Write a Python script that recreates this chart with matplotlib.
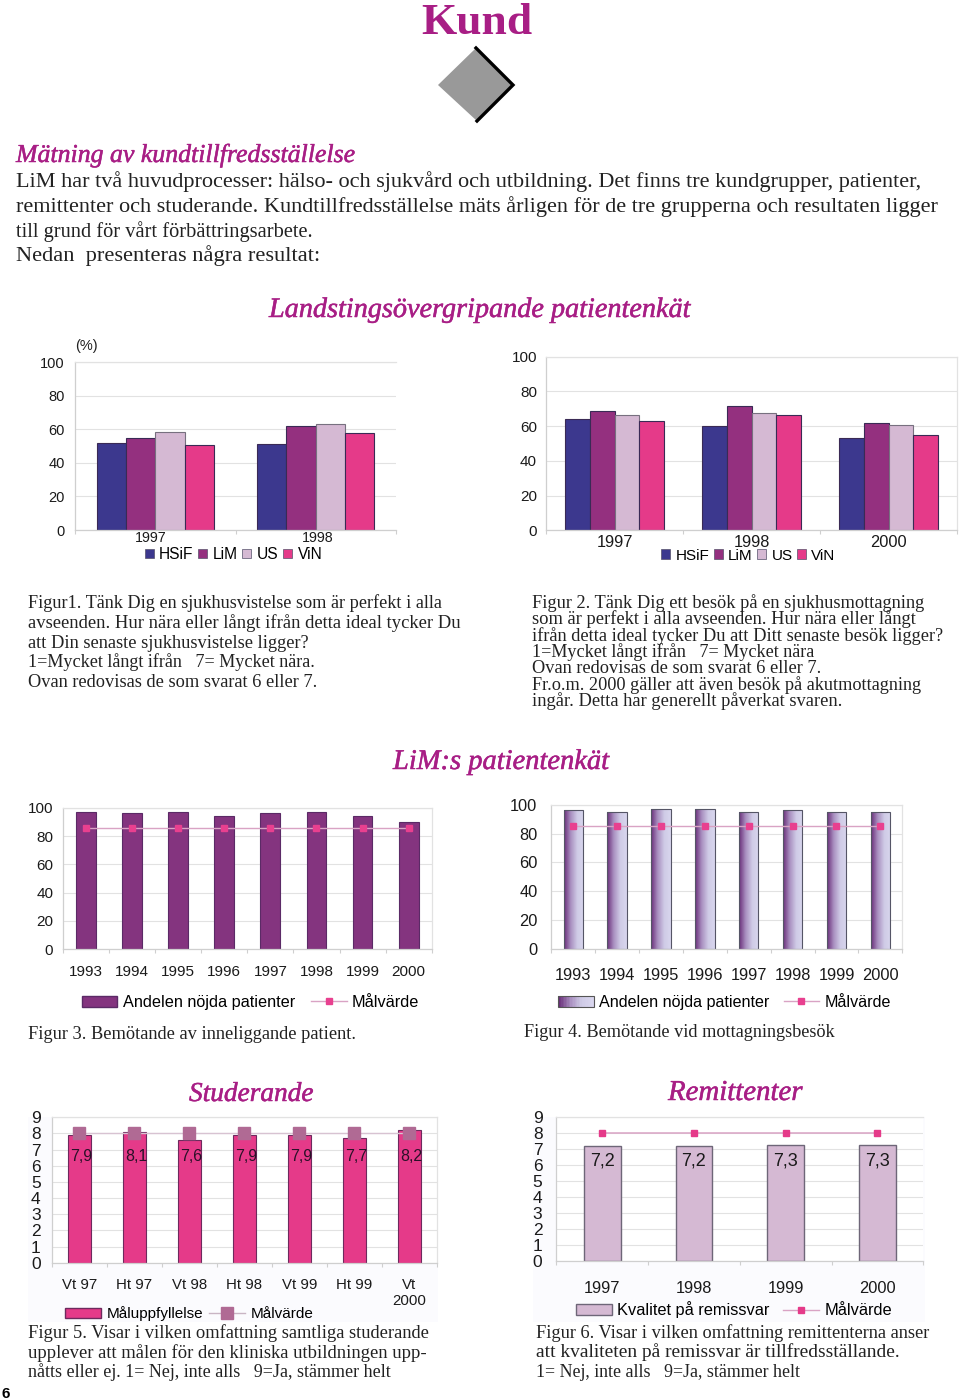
import numpy as np
import matplotlib
matplotlib.use("Agg")
import matplotlib.pyplot as plt
import matplotlib.patheffects as pe
from matplotlib.patches import Polygon, Rectangle, Patch
from matplotlib.lines import Line2D
from matplotlib.colors import LinearSegmentedColormap, to_hex
from matplotlib.legend_handler import HandlerBase
from matplotlib.transforms import ScaledTranslation

# ---- data ----
years_1 = ["1997", "1998"]
hsif_1 = [52, 51]
lim_1 = [55, 62]
us_1 = [58.5, 63]
vin_1 = [50.5, 57.5]

years_2 = ["1997", "1998", "2000"]
hsif_2 = [64, 60, 53]
lim_2 = [69, 71.6, 61.6]
us_2 = [66.6, 67.4, 60.6]
vin_2 = [63, 66.4, 54.7]

years_3 = ["1993", "1994", "1995", "1996", "1997", "1998", "1999", "2000"]
nojda_3 = [97, 96, 97, 94, 96, 97, 94, 90]
mal_3 = [86, 86, 86, 86, 86, 86, 86, 86]
nojda_4 = [96, 95, 97, 97, 95, 96, 95, 95]
mal_4 = [85.5, 85.5, 85.5, 85.5, 85.5, 85.5, 85.5, 85.5]

terms_5 = ["Vt 97", "Ht 97", "Vt 98", "Ht 98", "Vt 99", "Ht 99", "Vt\n2000"]
uppf_5 = [7.9, 8.1, 7.6, 7.9, 7.9, 7.7, 8.2]
mal_5 = [8, 8, 8, 8, 8, 8, 8]
years_6 = ["1997", "1998", "1999", "2000"]
kval_6 = [7.2, 7.2, 7.3, 7.3]
mal_6 = [8, 8, 8, 8]

# ---- styles ----
SANS = "Liberation Sans"
SERIF = "Liberation Serif"
NAVY, PURPLE, LILAC, PINK = "#3C388E", "#94307F", "#D5B9D3", "#E53A89"
PLUM = "#84347F"
HEAD = "#A81E85"
GRID = "#E2E2E2"
AXC = "#CFCFCF"
W, H = 960, 1400

plt.rcParams["font.family"] = SANS
fig = plt.figure(figsize=(9.6, 14), dpi=100, facecolor="white")
rend = fig.canvas.get_renderer()


def T(x, base, s, x1=None, size=15, color="#222222", family=SERIF, stroke=0, **kw):
    t = fig.text(x / W, 1 - base / H, s, fontsize=size, color=color,
                 family=family, va="baseline", ha="left", **kw)
    if x1 is not None:
        best, err = size, 1e9
        for fs in np.arange(size * 0.8, size * 1.3, 0.04):
            t.set_fontsize(fs)
            e = abs(t.get_window_extent(rend).width - (x1 - x))
            if e < err:
                best, err = fs, e
        t.set_fontsize(best)
    if stroke:
        t.set_path_effects([pe.withStroke(linewidth=stroke, foreground=color)])
    return t


def make_ax(x0, x1, ytop, y0, ymax, n, yticks, labels, pad, xsize, ysize,
            ypad=8, top=True, right=False):
    ax = fig.add_axes([x0 / W, 1 - y0 / H, (x1 - x0) / W, (y0 - ytop) / H], facecolor="white")
    ax.set_xlim(-0.5, n - 0.5)
    ax.set_ylim(0, ymax)
    ax.set_yticks(yticks)
    ax.tick_params(axis="y", length=0, labelsize=ysize, pad=ypad, labelcolor="#1a1a1a")
    ax.set_xticks(range(n))
    ax.set_xticklabels(labels)
    ax.tick_params(axis="x", length=0, labelsize=xsize, pad=pad, labelcolor="#1a1a1a")
    ax.set_xticks(np.arange(n + 1) - 0.5, minor=True)
    ax.tick_params(axis="x", which="minor", length=3, width=0.8, color=AXC, direction="out")
    ax.grid(axis="y", color=GRID, lw=0.8)
    ax.set_axisbelow(True)
    for k, sp in ax.spines.items():
        sp.set_color(AXC)
        sp.set_linewidth(0.9)
    ax.spines["top"].set_visible(top)
    ax.spines["top"].set_color(GRID)
    ax.spines["right"].set_visible(right)
    ax.spines["right"].set_color(GRID)
    return ax


def legend(ax, handles, labels, cx, cy, fs, hl, hh, tp, cs, **kw):
    return ax.legend(handles, labels, loc="center", bbox_to_anchor=(cx / W, 1 - cy / H),
                     bbox_transform=fig.transFigure, ncol=len(labels), frameon=False,
                     fontsize=fs, handlelength=hl, handleheight=hh, handletextpad=tp,
                     columnspacing=cs, borderpad=0, borderaxespad=0, **kw)


def grouped(ax, series, colors, w):
    for j, (vals, c) in enumerate(zip(series, colors)):
        x = np.arange(len(vals)) + (j - 1.5) * w
        ec = "#77707F" if c == LILAC else "#3a2a55"
        ax.bar(x, vals, w, color=c, edgecolor=ec, linewidth=0.8, zorder=2)


NAMES = ["HSiF", "LiM", "US", "ViN"]
COLS = [NAVY, PURPLE, LILAC, PINK]
sq = [Patch(facecolor=c, edgecolor="#55506a", lw=0.5) for c in COLS]

# ---- page decoration ----
fig.patches.append(Rectangle((533 / W, 1 - 1322 / H), 392 / W, 205 / H, transform=fig.transFigure,
                             facecolor="#FBFBFE", edgecolor="none", zorder=-5))
fig.patches.append(Rectangle((28 / W, 1 - 1322 / H), 410 / W, 205 / H, transform=fig.transFigure,
                             facecolor="#FBFBFE", edgecolor="none", zorder=-5))
T(421, 34, "Kund", x1=532, size=32, color=HEAD, weight="bold")


def P(pts):
    return [(x / W, 1 - y / H) for x, y in pts]


fig.patches.append(Polygon(P([(476, 48), (514, 85), (477, 121), (438, 85)]), closed=True,
                           transform=fig.transFigure, facecolor="#999999", edgecolor="none"))
fig.add_artist(Line2D(*zip(*P([(476, 48), (513, 85), (477, 121)])), transform=fig.transFigure,
                      color="black", lw=2.4, solid_joinstyle="miter"))

# ---- text ----
T(16, 162, "Mätning av kundtillfredsställelse", x1=357, size=18, color=HEAD, style="italic", stroke=0.35)
for base, s, x1 in [
    (187, "LiM har två huvudprocesser: hälso- och sjukvård och utbildning. Det finns tre kundgrupper, patienter,", 921),
    (212, "remittenter och studerande. Kundtillfredsställelse mäts årligen för de tre grupperna och resultaten ligger", 941),
    (237, "till grund för vårt förbättringsarbete.", 312),
    (261, "Nedan  presenteras några resultat:", 319),
]:
    T(16, base, s, x1=x1)
T(269, 317, "Landstingsövergripande patientenkät", x1=691, size=20, color=HEAD, style="italic", stroke=0.35)
T(393, 769, "LiM:s patientenkät", x1=609, size=20, color=HEAD, style="italic", stroke=0.35)
T(189, 1101, "Studerande", x1=314, size=20, color=HEAD, style="italic", stroke=0.35)
T(668, 1100, "Remittenter", x1=803, size=20, color=HEAD, style="italic", stroke=0.35)

for base, s, x1 in [
    (608, "Figur1. Tänk Dig en sjukhusvistelse som är perfekt i alla", 443),
    (628, "avseenden. Hur nära eller långt ifrån detta ideal tycker Du", 460),
    (648, "att Din senaste sjukhusvistelse ligger?", 308),
    (667, "1=Mycket långt ifrån   7= Mycket nära.", 315),
    (687, "Ovan redovisas de som svarat 6 eller 7.", 316),
]:
    T(28, base, s, x1=x1)
for base, s, x1 in [
    (608, "Figur 2. Tänk Dig ett besök på en sjukhusmottagning", 923),
    (624, "som är perfekt i alla avseenden. Hur nära eller långt", 916),
    (641, "ifrån detta ideal tycker Du att Ditt senaste besök ligger?", 942),
    (657, "1=Mycket långt ifrån   7= Mycket nära", 814),
    (673, "Ovan redovisas de som svarat 6 eller 7.", 820),
    (690, "Fr.o.m. 2000 gäller att även besök på akutmottagning", 921),
    (706, "ingår. Detta har generellt påverkat svaren.", 842),
]:
    T(532, base, s, x1=x1)
T(28, 1039, "Figur 3. Bemötande av inneliggande patient.", x1=355)
T(524, 1037, "Figur 4. Bemötande vid mottagningsbesök", x1=836)
for base, s, x1 in [
    (1338, "Figur 5. Visar i vilken omfattning samtliga studerande", 428),
    (1358, "upplever att målen för den kliniska utbildningen upp-", 428),
    (1377, "nåtts eller ej. 1= Nej, inte alls   9=Ja, stämmer helt", 390),
]:
    T(28, base, s, x1=x1)
for base, s, x1 in [
    (1338, "Figur 6. Visar i vilken omfattning remittenterna anser", 929),
    (1357, "att kvaliteten på remissvar är tillfredsställande.", 900),
    (1377, "1= Nej, inte alls   9=Ja, stämmer helt", 800),
]:
    T(536, base, s, x1=x1)
T(2, 1398, "6", size=11, weight="bold", family=SANS, color="black")

# ---- chart 1 ----
ax1 = make_ax(75, 396, 362, 530, 100, 2, range(0, 101, 20), years_1, 1, 10.3, 10.5, ypad=7.5)
grouped(ax1, [hsif_1, lim_1, us_1, vin_1], COLS, 0.183)
for lbl, dx in zip(ax1.get_xticklabels(), [-4, 2]):
    lbl.set_transform(lbl.get_transform() + ScaledTranslation(dx / 100, 0, fig.dpi_scale_trans))
T(75, 350, "(%)", size=10.5, family=SANS)
legend(ax1, sq, NAMES, 233.5, 554.5, 11.2, 0.58, 0.58, 0.35, 0.3)

# ---- chart 2 ----
ax2 = make_ax(546, 957, 356.7, 530.3, 100, 3, range(0, 101, 20), years_2, 3.5, 11.8, 11, ypad=6.5, right=True)
grouped(ax2, [hsif_2, lim_2, us_2, vin_2], COLS, 0.182)
legend(ax2, sq, NAMES, 748.5, 555.5, 11, 0.58, 0.58, 0.35, 0.3)

# ---- chart 3 ----
TLINE = "#D9A3C4"
line3 = dict(color=TLINE, lw=1, marker="s", ms=5, mfc="#E8408F", mec="#E8408F")
ax3 = make_ax(63, 431.7, 807.7, 949.3, 100, 8, range(0, 101, 20), years_3, 11.5, 11, 11, ypad=7, right=True)
ax3.bar(range(8), nojda_3, 0.43, color=PLUM, edgecolor="#5b2a66", lw=0.8, zorder=2)
ax3.plot(range(8), mal_3, zorder=3, **line3)
legend(ax3, [Patch(facecolor=PLUM, edgecolor="#5b2a66"), Line2D([], [], **line3)],
       ["Andelen nöjda patienter", "Målvärde"], 250.5, 1002.5, 11.7, 2.2, 0.65, 0.32, 1.0)

# ---- chart 4 ----
GRAD = LinearSegmentedColormap.from_list("g", ["#6A2F7A", "#A98FC0", "#CFCBE6", "#D9D6EE"])


class GradHandler(HandlerBase):
    def create_artists(self, legend, orig, xd, yd, width, height, fs, trans):
        out = []
        n = 24
        for i in range(n):
            out.append(Rectangle((-xd + width * i / n, -yd), width / n + 0.3, height,
                                 facecolor=to_hex(GRAD(i / (n - 1))), edgecolor="none", transform=trans))
        out.append(Rectangle((-xd, -yd), width, height, facecolor="none", edgecolor="#555555",
                             lw=0.8, transform=trans))
        return out


ax4 = make_ax(551.3, 902.3, 804.7, 948.7, 100, 8, range(0, 101, 20), years_3, 14, 11.8, 11.8, ypad=10, right=True)
grad_img = np.linspace(0, 1, 64)[None, :]
wb = 0.44
for i, v in enumerate(nojda_4):
    ax4.imshow(grad_img, cmap=GRAD, extent=(i - wb / 2, i + wb / 2, 0, v), aspect="auto", zorder=2)
ax4.bar(range(8), nojda_4, wb, facecolor="none", edgecolor="#555566", lw=0.8, zorder=2.5)
ax4.set_xlim(-0.5, 7.5)
ax4.set_ylim(0, 100)
ax4.plot(range(8), mal_4, zorder=3, **line3)
legend(ax4, [Patch(), Line2D([], [], **line3)],
       ["Andelen nöjda patienter", "Målvärde"], 724.5, 1002.5, 11.6, 2.2, 0.65, 0.32, 0.9,
       handler_map={Patch: GradHandler()})

# ---- chart 5 ----
ax5 = make_ax(51.7, 437, 1117.3, 1262.7, 9, 7, range(0, 10), terms_5, 11, 10.8, 12.5, ypad=8, right=True)
ax5.bar(range(7), uppf_5, 0.41, color=PINK, edgecolor="#6d2a5e", lw=0.8, zorder=2)
ax5.plot(range(7), mal_5, color="#D8C3D2", lw=1, marker="s", ms=8.8, mfc="#B06A94", mec="#B06A94", zorder=3)
for i, v in enumerate(uppf_5):
    ax5.text(i + 0.04, 6.55, f"{v}".replace(".", ","), ha="center", va="center", fontsize=11.5,
             color="#2a1028", zorder=4)
legend(ax5, [Patch(facecolor=PINK, edgecolor="#6d2a5e"),
             Line2D([], [], color="#C9B5C4", lw=1, marker="s", ms=8.8, mfc="#B06A94", mec="#B06A94")],
       ["Måluppfyllelse", "Målvärde"], 189.5, 1314, 11, 2.35, 0.7, 0.35, 0.4)

# ---- chart 6 ----
ax6 = make_ax(556.3, 923.3, 1117.3, 1261.3, 9, 4, range(0, 10), years_6, 14, 11.8, 12.5, ypad=10)
ax6.bar(range(4), kval_6, 0.4, color=LILAC, edgecolor="#6E6678", lw=1, zorder=2)
ax6.plot(range(4), mal_6, color=TLINE, lw=1.1, marker="s", ms=5, mfc=PINK, mec=PINK, zorder=3)
for i, v in enumerate(kval_6):
    ax6.text(i, 6.25, f"{v}".replace(".", ","), ha="center", va="center", fontsize=13,
             color="#1a1a1a", zorder=4)
legend(ax6, [Patch(facecolor=LILAC, edgecolor="#6E6678"),
             Line2D([], [], color=TLINE, lw=1, marker="s", ms=5, mfc=PINK, mec=PINK)],
       ["Kvalitet på remissvar", "Målvärde"], 734, 1310, 11.8, 2.2, 0.65, 0.32, 0.8)

fig.savefig("out.png", dpi=100, facecolor="white")
